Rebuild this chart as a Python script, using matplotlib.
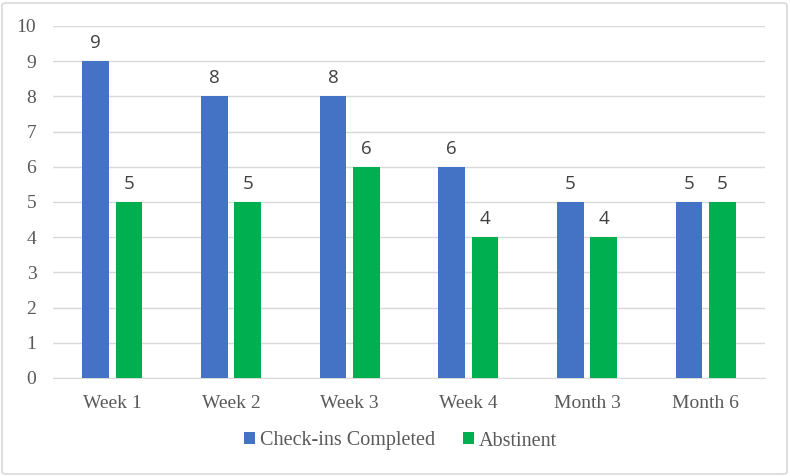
import matplotlib.pyplot as plt
import numpy as np
from matplotlib.patches import FancyBboxPatch

categories = ["Week 1", "Week 2", "Week 3", "Week 4", "Month 3", "Month 6"]
checkins = [9, 8, 8, 6, 5, 5]
abstinent = [5, 5, 6, 4, 4, 5]

BLUE = "#4472c4"
GREEN = "#00b050"
SERIF = "Liberation Serif"

fig = plt.figure(figsize=(7.9, 4.76), dpi=100)
ax = fig.add_axes([53 / 790, 1 - 378 / 476, 712 / 790, 352 / 476])

x = np.arange(len(categories))
w = 0.225
off = 0.1415
b1 = ax.bar(x - off, checkins, w, color=BLUE, label="Check-ins Completed", zorder=3)
b2 = ax.bar(x + off, abstinent, w, color=GREEN, label="Abstinent", zorder=3)

# value labels above each bar
for bars in (b1, b2):
    for r in bars:
        ax.text(r.get_x() + r.get_width() / 2, r.get_height() + 0.26, f"{r.get_height():.0f}",
                ha="center", va="bottom", fontsize=13.5, color="#404040",
                family="Open Sans")

ax.set_xlim(-0.5, len(categories) - 0.5)
ax.set_ylim(0, 10)
ax.set_yticks(range(0, 11))
ax.set_xticks(x)
ax.set_xticklabels(categories)
ax.yaxis.grid(True, color="#d9d9d9", linewidth=1, zorder=0)
ax.set_axisbelow(True)
for s in ["top", "right", "left"]:
    ax.spines[s].set_visible(False)
ax.spines["bottom"].set_color("#d9d9d9")
ax.tick_params(length=0, colors="#595959", labelsize=14)
ax.tick_params(axis="x", pad=12)
ax.tick_params(axis="y", pad=12)
for lbl in ax.get_xticklabels() + ax.get_yticklabels():
    lbl.set_family(SERIF)

fig.legend(handles=[b1, b2], loc="center", bbox_to_anchor=(0.507, 1 - 441 / 476), ncol=2,
           frameon=False, prop={"family": SERIF, "size": 14.5},
           handlelength=0.55, handleheight=0.55, handletextpad=0.25, columnspacing=1.4,
           labelcolor="#595959")

fig.patches.append(FancyBboxPatch((2 / 790, 2 / 476), 785 / 790, 471 / 476,
                                  boxstyle="round,pad=0,rounding_size=0.005",
                                  transform=fig.transFigure, facecolor="none",
                                  edgecolor="#d9d9d9", linewidth=1.2))

fig.savefig("out.png", dpi=100)
